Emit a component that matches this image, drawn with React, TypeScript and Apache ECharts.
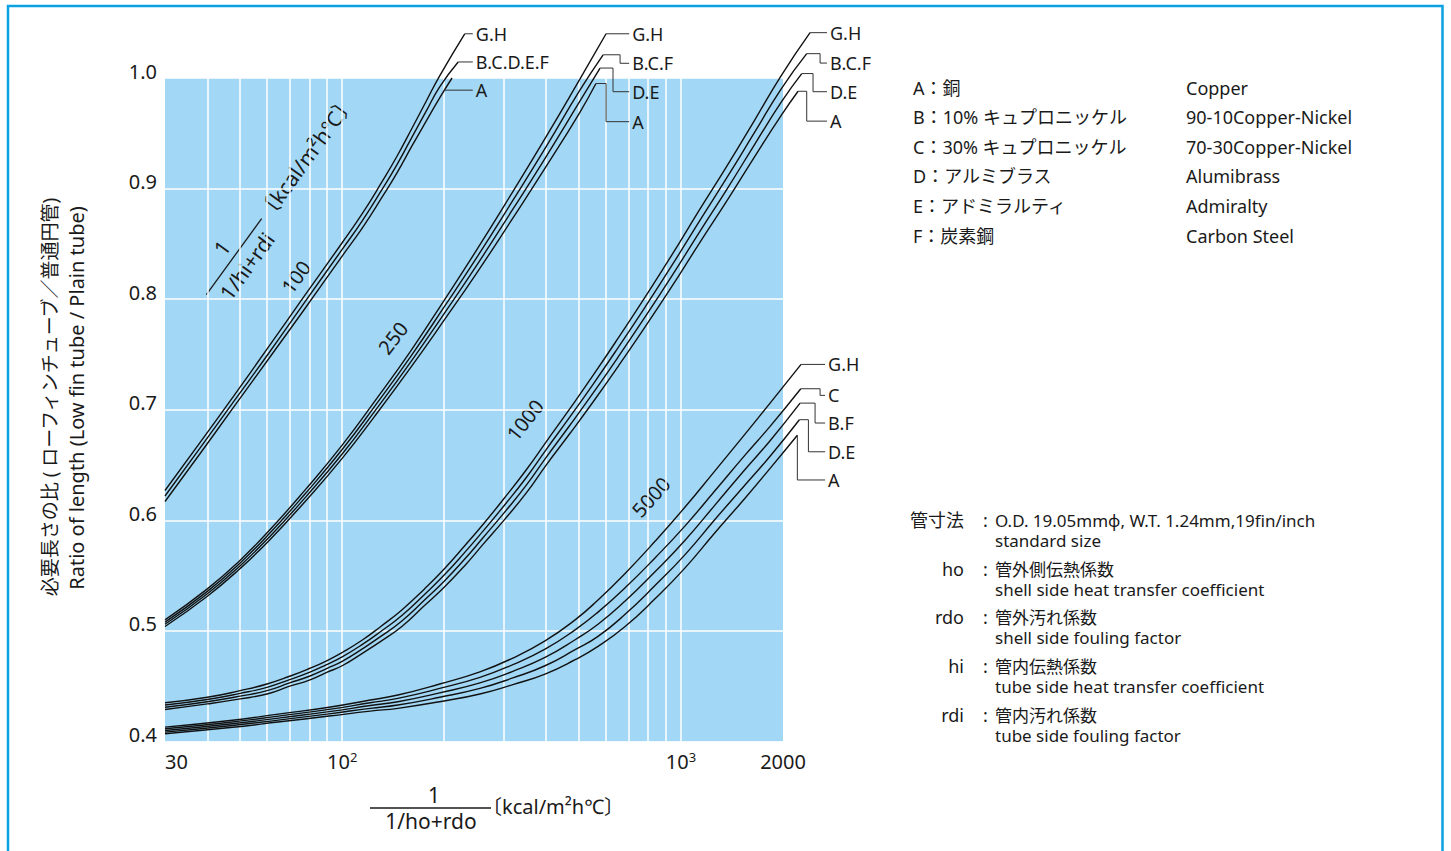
import React, { useEffect, useRef } from "react";
import * as echarts from "echarts";

type P = [number, number];

// ---------- axes ----------
const xMin = 30;
const xMax = 2000;
const xMaxExt = 3000; // extended (hidden) axis for the label leaders drawn right of the plot
const yMin = 0.4;
const yMax = 1.0;
const yStep = 0.1;
const xGridValues = [40, 50, 60, 70, 80, 90, 100, 200, 300, 400, 500, 600, 700, 800, 900, 1000];

// ---------- family 1/(1/hi+rdi) = 100 ----------
const f100_GH: P[] = [[30, 0.627], [38, 0.670], [48, 0.713], [61, 0.758], [77, 0.802], [100, 0.851], [115, 0.878], [131, 0.906], [145, 0.929], [161, 0.955], [177, 0.979], [194, 1.002], [230, 1.040]];
const f100_BCDEF: P[] = [[30, 0.622], [38, 0.665], [48, 0.708], [61, 0.752], [77, 0.796], [100, 0.845], [115, 0.8715], [131, 0.899], [145, 0.9215], [161, 0.947], [177, 0.970], [194, 0.992], [220, 1.0145]];
const f100_A: P[] = [[30, 0.617], [38, 0.660], [48, 0.703], [61, 0.747], [77, 0.790], [100, 0.839], [115, 0.865], [131, 0.892], [145, 0.914], [161, 0.939], [177, 0.961], [194, 0.982], [211, 1.000]];
const f100_lead_GH: P[] = [[230, 1.040], [243, 1.040]];
const f100_lead_BCDEF: P[] = [[220, 1.0145], [243, 1.0145]];
const f100_lead_A: P[] = [[200, 0.989], [243, 0.989]];

// ---------- family 250 ----------
const f250_GH: P[] = [[30, 0.510], [40, 0.538], [50, 0.564], [61, 0.591], [78, 0.628], [100, 0.668], [125, 0.708], [160, 0.754], [200, 0.799], [250, 0.845], [320, 0.898], [400, 0.947], [503, 0.999], [601, 1.040]];
const f250_BCF: P[] = [[30, 0.508], [40, 0.5358], [50, 0.5615], [61, 0.588], [78, 0.6245], [100, 0.664], [125, 0.7035], [160, 0.749], [200, 0.793], [250, 0.838], [320, 0.890], [400, 0.938], [503, 0.989], [589, 1.021]];
const f250_DE: P[] = [[30, 0.506], [40, 0.5336], [50, 0.559], [61, 0.585], [78, 0.621], [100, 0.660], [125, 0.699], [160, 0.744], [200, 0.787], [250, 0.831], [320, 0.882], [400, 0.929], [503, 0.979], [577, 1.009]];
const f250_A: P[] = [[30, 0.504], [40, 0.5314], [50, 0.5565], [61, 0.582], [78, 0.6175], [100, 0.656], [125, 0.6945], [160, 0.739], [200, 0.781], [250, 0.824], [320, 0.874], [400, 0.920], [503, 0.969], [561, 0.995]];
const f250_lead_GH: P[] = [[601, 1.040], [703, 1.040]];
const f250_lead_BCF: P[] = [[589, 1.021], [661, 1.021], [661, 1.0133], [703, 1.0133]];
const f250_lead_DE: P[] = [[577, 1.009], [630, 1.009], [630, 0.9876], [703, 0.9876]];
const f250_lead_A: P[] = [[561, 0.995], [601, 0.995], [601, 0.9605], [703, 0.9605]];

// ---------- family 1000 ----------
const f1000_GH: P[] = [[30, 0.435], [40, 0.440], [50, 0.446], [60, 0.452], [70, 0.459], [80, 0.466], [90, 0.473], [100, 0.4805], [115, 0.492], [130, 0.504], [150, 0.519], [175, 0.538], [200, 0.556], [230, 0.577], [260, 0.596], [300, 0.6195], [350, 0.646], [400, 0.671], [470, 0.701], [550, 0.731], [650, 0.764], [780, 0.801], [940, 0.840], [1130, 0.880], [1370, 0.921], [1650, 0.962], [1974, 1.002], [2404, 1.041]];
const f1000_BCF: P[] = [[30, 0.433], [40, 0.438], [50, 0.4435], [60, 0.449], [70, 0.456], [80, 0.4625], [90, 0.4695], [100, 0.4765], [115, 0.488], [130, 0.4995], [150, 0.514], [175, 0.533], [200, 0.5505], [230, 0.571], [260, 0.590], [300, 0.613], [350, 0.639], [400, 0.664], [470, 0.6935], [550, 0.723], [650, 0.7555], [780, 0.792], [940, 0.8305], [1130, 0.870], [1370, 0.9105], [1650, 0.951], [1974, 0.990], [2350, 1.022]];
const f1000_DE: P[] = [[30, 0.431], [40, 0.436], [50, 0.441], [60, 0.446], [70, 0.453], [80, 0.459], [90, 0.466], [100, 0.4725], [115, 0.484], [130, 0.495], [150, 0.509], [175, 0.528], [200, 0.545], [230, 0.565], [260, 0.584], [300, 0.6065], [350, 0.632], [400, 0.657], [470, 0.686], [550, 0.715], [650, 0.747], [780, 0.783], [940, 0.821], [1130, 0.860], [1370, 0.900], [1650, 0.940], [1974, 0.978], [2272, 1.004]];
const f1000_A: P[] = [[30, 0.429], [40, 0.434], [50, 0.4385], [60, 0.443], [70, 0.450], [80, 0.4555], [90, 0.4625], [100, 0.4685], [115, 0.480], [130, 0.4905], [150, 0.504], [175, 0.523], [200, 0.5395], [230, 0.559], [260, 0.578], [300, 0.600], [350, 0.625], [400, 0.650], [470, 0.6785], [550, 0.707], [650, 0.7385], [780, 0.774], [940, 0.8115], [1130, 0.850], [1370, 0.8895], [1650, 0.929], [1974, 0.966], [2216, 0.988]];
const f1000_lead_GH: P[] = [[2404, 1.041], [2697, 1.041]];
const f1000_lead_BCF: P[] = [[2350, 1.022], [2573, 1.022], [2573, 1.0135], [2697, 1.0135]];
const f1000_lead_DE: P[] = [[2272, 1.004], [2453, 1.004], [2453, 0.9876], [2697, 0.9876]];
const f1000_lead_A: P[] = [[2216, 0.988], [2350, 0.988], [2350, 0.961], [2697, 0.961]];

// ---------- family 5000 ----------
const f5000_GH: P[] = [[30, 0.413], [46.7, 0.419], [65.6, 0.425], [91.5, 0.431], [121, 0.4375], [146, 0.442], [194, 0.452], [255, 0.463], [319, 0.4755], [397, 0.491], [487, 0.510], [569, 0.528], [684, 0.552], [838, 0.581], [1028, 0.612], [1261, 0.645], [1545, 0.678], [1832, 0.706], [2261, 0.741]];
const f5000_C: P[] = [[30, 0.4115], [46.7, 0.4174], [65.6, 0.4232], [91.5, 0.429], [121, 0.435], [146, 0.439], [194, 0.448], [255, 0.458], [319, 0.4695], [397, 0.4835], [487, 0.501], [569, 0.517], [684, 0.539], [838, 0.566], [1028, 0.595], [1261, 0.627], [1545, 0.659], [1832, 0.685], [2257, 0.719]];
const f5000_BF: P[] = [[30, 0.410], [46.7, 0.4158], [65.6, 0.4214], [91.5, 0.427], [121, 0.4325], [146, 0.436], [194, 0.444], [255, 0.453], [319, 0.4635], [397, 0.476], [487, 0.492], [569, 0.506], [684, 0.527], [838, 0.5535], [1028, 0.582], [1261, 0.614], [1545, 0.646], [1832, 0.672], [2246, 0.706]];
const f5000_DE: P[] = [[30, 0.4085], [46.7, 0.4142], [65.6, 0.4196], [91.5, 0.425], [121, 0.430], [146, 0.433], [194, 0.440], [255, 0.448], [319, 0.4575], [397, 0.4685], [487, 0.483], [569, 0.495], [684, 0.515], [838, 0.541], [1028, 0.569], [1261, 0.601], [1545, 0.632], [1832, 0.658], [2236, 0.691]];
const f5000_A: P[] = [[30, 0.407], [46.7, 0.4126], [65.6, 0.4178], [91.5, 0.423], [121, 0.4275], [146, 0.430], [194, 0.436], [255, 0.443], [319, 0.4515], [397, 0.461], [487, 0.474], [569, 0.486], [684, 0.504], [838, 0.529], [1028, 0.557], [1261, 0.589], [1545, 0.620], [1832, 0.647], [2205, 0.677]];
const f5000_lead_GH: P[] = [[2261, 0.741], [2662, 0.741]];
const f5000_lead_C: P[] = [[2257, 0.719], [2573, 0.719], [2573, 0.713], [2662, 0.713]];
const f5000_lead_BF: P[] = [[2246, 0.706], [2487, 0.706], [2487, 0.688], [2662, 0.688]];
const f5000_lead_DE: P[] = [[2236, 0.691], [2377, 0.691], [2377, 0.662], [2662, 0.662]];
const f5000_lead_A: P[] = [[2205, 0.677], [2205, 0.6365], [2662, 0.6365]];

// ---------- texts ----------
const materialCodes = ["A：銅", "B：10% キュプロニッケル", "C：30% キュプロニッケル", "D：アルミブラス", "E：アドミラルティ", "F：炭素鋼"];
const materialNames = ["Copper", "90-10Copper-Nickel", "70-30Copper-Nickel", "Alumibrass", "Admiralty", "Carbon Steel"];
const noteTerms = ["管寸法", "ho", "rdo", "hi", "rdi"];
const noteJa = ["O.D. 19.05mmφ, W.T. 1.24mm,19fin/inch", "管外側伝熱係数", "管外汚れ係数", "管内伝熱係数", "管内汚れ係数"];
const noteEn = ["standard size", "shell side heat transfer coefficient", "shell side fouling factor", "tube side heat transfer coefficient", "tube side fouling factor"];
const familyLabels = ["100", "250", "1000", "5000"];

const FONT = "'Noto Sans', 'Noto Sans CJK JP', sans-serif";
const INK = "#1a1a1a";

function curve(data: P[]) {
  return {
    type: "line",
    xAxisIndex: 1,
    yAxisIndex: 1,
    data,
    symbol: "none",
    showSymbol: false,
    smooth: 0.5,
    clip: false,
    silent: true,
    z: 10,
    lineStyle: { color: "#111", width: 1.4 },
  };
}

function leader(data: P[], text: string) {
  return {
    type: "line",
    xAxisIndex: 1,
    yAxisIndex: 1,
    data,
    symbol: "none",
    showSymbol: false,
    clip: false,
    silent: true,
    z: 11,
    lineStyle: { color: "#333", width: 1 },
    endLabel: {
      show: true,
      formatter: text,
      distance: 3,
      color: INK,
      fontSize: 18,
      fontFamily: FONT,
    },
  };
}

function txt(x: number, y: number, text: string, align = "left", size = 18, rotation = 0) {
  return {
    type: "text",
    x,
    y,
    rotation,
    silent: true,
    style: { text, fill: INK, fontSize: size, fontFamily: FONT, align, verticalAlign: "middle" },
  };
}

export default function App() {
  const ref = useRef<HTMLDivElement>(null);
  useEffect(() => {
    if (!ref.current) return;
    const chart = echarts.init(ref.current, undefined, { renderer: "svg" });

    const matRows = [88, 117, 147, 176, 206, 236];
    const noteRows = [520, 569, 617, 666, 715];

    const graphics: any[] = [
      {
        type: "rect",
        shape: { x: 8, y: 6, width: 1434.5, height: 900 },
        style: { fill: "none", stroke: "#0aa2e3", lineWidth: 2.5 },
        silent: true,
      },
      // y axis title
      txt(50, 397, "必要長さの比 ( ローフィンチューブ／普通円管)", "center", 19, Math.PI / 2),
      txt(76, 398, "Ratio of length (Low fin tube / Plain tube)", "center", 20, Math.PI / 2),
      // x axis title
      txt(434, 795, "1", "center", 21),
      { type: "line", shape: { x1: 370, y1: 808, x2: 491, y2: 808 }, style: { stroke: INK, lineWidth: 1.3 }, silent: true },
      txt(431, 821, "1/ho+rdo", "center", 21),
      txt(482, 806, "〔kcal/m²h℃〕", "left", 20),
      // diagonal hi label
      {
        type: "group",
        x: 234,
        y: 256.6,
        rotation: 0.942,
        silent: true,
        children: [
          { type: "line", shape: { x1: -47, y1: 0, x2: 47, y2: 0 }, style: { stroke: INK, lineWidth: 1.3 } },
          txt(0, -15, "1", "center", 21),
          txt(0, 16, "1/hi+rdi", "center", 21),
          txt(48, 0, "〔kcal/m²h℃〕", "left", 21),
        ],
      },
      txt(296, 277, familyLabels[0], "center", 20, 0.94),
      txt(393, 338, familyLabels[1], "center", 20, 0.92),
      txt(525, 420, familyLabels[2], "center", 20, 0.9),
      txt(651, 497, familyLabels[3], "center", 20, 0.84),
    ];
    materialCodes.forEach((t, i) => graphics.push(txt(913, matRows[i], t, "left", 18)));
    materialNames.forEach((t, i) => graphics.push(txt(1186, matRows[i], t, "left", 18)));
    noteTerms.forEach((t, i) => {
      graphics.push(txt(964, noteRows[i], t, "right", 18));
      graphics.push(txt(983, noteRows[i], ":", "left", 18));
      graphics.push(txt(995, noteRows[i], noteJa[i], "left", 17));
      graphics.push(txt(995, noteRows[i] + 20.5, noteEn[i], "left", 17));
    });

    const plotW = 618;
    const decades = Math.log10(xMax / xMin);
    const extW = (plotW / decades) * Math.log10(xMaxExt / xMin);

    const option: any = {
      animation: false,
      backgroundColor: "#ffffff",
      grid: [
        { left: 165, top: 78, width: plotW, height: 663.5, show: true, backgroundColor: "#a2d8f5", borderWidth: 0 },
        { left: 165, top: 78, width: extW, height: 663.5, show: false },
      ],
      xAxis: [
        {
          gridIndex: 0,
          type: "log",
          logBase: 10,
          min: xMin,
          max: xMax,
          axisLine: { show: false },
          axisTick: { show: false },
          splitLine: { show: false },
          minorTick: { show: false },
          axisLabel: {
            margin: 9,
            alignMinLabel: "left",
            alignMaxLabel: "center",
            formatter: (v: number) => {
              const e = Math.log10(v);
              if (Math.abs(e - Math.round(e)) < 1e-9) return `{b|10}{s|${Math.round(e)}}`;
              return `{b|${Math.round(v)}}`;
            },
            rich: {
              b: { fontSize: 20, fontFamily: FONT, color: INK, lineHeight: 22 },
              s: { fontSize: 13, fontFamily: FONT, color: INK, verticalAlign: "top", lineHeight: 22 },
            },
          },
        },
        {
          gridIndex: 1,
          type: "log",
          logBase: 10,
          min: xMin,
          max: xMaxExt,
          show: false,
          splitLine: { show: false },
        },
      ],
      yAxis: [
        {
          gridIndex: 0,
          type: "value",
          min: yMin,
          max: yMax,
          interval: yStep,
          axisLine: { show: false },
          axisTick: { show: false },
          splitLine: { show: true, lineStyle: { color: "#ffffff", width: 1.5 } },
          axisLabel: {
            margin: 8,
            color: INK,
            fontSize: 20,
            fontFamily: FONT,
            verticalAlign: "bottom",
            lineHeight: 14,
            formatter: (v: number) => v.toFixed(1),
          },
        },
        {
          gridIndex: 1,
          type: "value",
          min: yMin,
          max: yMax,
          interval: yStep,
          show: false,
          splitLine: { show: false },
        },
      ],
      series: [
        {
          type: "line",
          xAxisIndex: 0,
          yAxisIndex: 0,
          data: [[xMin, yMin]],
          symbol: "none",
          lineStyle: { width: 0 },
          silent: true,
          z: 1,
          markLine: {
            silent: true,
            symbol: "none",
            z: 1,
            label: { show: false },
            lineStyle: { color: "#ffffff", width: 1.5, type: "solid" },
            emphasis: { disabled: true },
            data: xGridValues.map((v) => ({ xAxis: v })),
          },
        },
        curve(f100_GH), curve(f100_BCDEF), curve(f100_A),
        leader(f100_lead_GH, "G.H"), leader(f100_lead_BCDEF, "B.C.D.E.F"), leader(f100_lead_A, "A"),
        curve(f250_GH), curve(f250_BCF), curve(f250_DE), curve(f250_A),
        leader(f250_lead_GH, "G.H"), leader(f250_lead_BCF, "B.C.F"), leader(f250_lead_DE, "D.E"), leader(f250_lead_A, "A"),
        curve(f1000_GH), curve(f1000_BCF), curve(f1000_DE), curve(f1000_A),
        leader(f1000_lead_GH, "G.H"), leader(f1000_lead_BCF, "B.C.F"), leader(f1000_lead_DE, "D.E"), leader(f1000_lead_A, "A"),
        curve(f5000_GH), curve(f5000_C), curve(f5000_BF), curve(f5000_DE), curve(f5000_A),
        leader(f5000_lead_GH, "G.H"), leader(f5000_lead_C, "C"), leader(f5000_lead_BF, "B.F"), leader(f5000_lead_DE, "D.E"), leader(f5000_lead_A, "A"),
      ],
      graphic: { elements: graphics },
    };
    chart.setOption(option);
    return () => chart.dispose();
  }, []);
  return <div ref={ref} style={{ position: "absolute", left: 0, top: 0, width: 1451, height: 851, background: "#fff" }} />;
}
